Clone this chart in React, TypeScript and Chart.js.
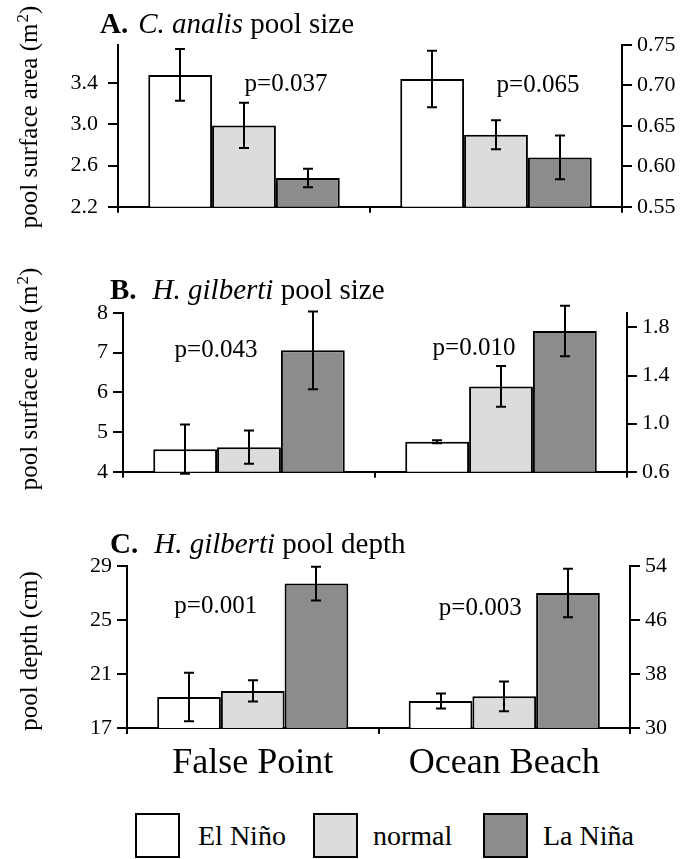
import React, { useEffect, useRef } from "react";
import { Chart, registerables } from "chart.js";

Chart.register(...registerables);

// ---------- data ----------
const sites = ["False Point", "Ocean Beach"];
const seasons = ["El Niño", "normal", "La Niña"];

// Panel A: C. analis pool size (m²) — False Point on left axis, Ocean Beach on right axis
const aFalsePoint = [3.48, 2.99, 2.48];
const aFalsePointErr = [0.25, 0.22, 0.09];
const aOceanBeach = [0.708, 0.639, 0.611];
const aOceanBeachErr = [0.035, 0.018, 0.027];
const aLeftTicks = [2.2, 2.6, 3.0, 3.4];
const aRightTicks = [0.55, 0.6, 0.65, 0.7, 0.75];
const aPValues = ["p=0.037", "p=0.065"];

// Panel B: H. gilberti pool size (m²)
const bFalsePoint = [4.57, 4.62, 7.06];
const bFalsePointErr = [0.62, 0.42, 0.98];
const bOceanBeach = [0.85, 1.31, 1.77];
const bOceanBeachErr = [0.012, 0.17, 0.21];
const bLeftTicks = [4, 5, 6, 7, 8];
const bRightTicks = [0.6, 1.0, 1.4, 1.8];
const bPValues = ["p=0.043", "p=0.010"];

// Panel C: H. gilberti pool depth (cm)
const cFalsePoint = [19.3, 19.75, 27.7];
const cFalsePointErr = [1.8, 0.78, 1.25];
const cOceanBeach = [34.0, 34.7, 50.0];
const cOceanBeachErr = [1.1, 2.2, 3.6];
const cLeftTicks = [17, 21, 25, 29];
const cRightTicks = [30, 38, 46, 54];
const cPValues = ["p=0.001", "p=0.003"];

// ---------- styles ----------
const SERIF = "'Liberation Serif', 'Times New Roman', serif";
const FILLS = ["#ffffff", "#dcdcdc", "#8c8c8c"];
const W = 698;

type PanelCfg = {
  letter: string;
  species: string;
  rest: string;
  yTitle: string;
  ySup: string;
  yTitleEnd: string;
  fp: number[];
  fpErr: number[];
  ob: number[];
  obErr: number[];
  leftTicks: number[];
  rightTicks: number[];
  pValues: string[];
  leftRange: [number, number];
  rightRange: [number, number];
  showX: boolean;
  canvasTop: number;
  canvasHeight: number;
  plotTop: number;
  plotBottom: number;
  axisLeft: number;
  axisRight: number;
  leftPad: number;
  titleX: number;
  titleGap: number;
  titleBase: number;
  yTitleCenter: number;
  pdx: number[];
  pdy: number[];
};

const panels: PanelCfg[] = [
  {
    letter: "A.", species: "C. analis", rest: "pool size",
    yTitle: "pool surface area (m", ySup: "2", yTitleEnd: ")",
    fp: aFalsePoint, fpErr: aFalsePointErr, ob: aOceanBeach, obErr: aOceanBeachErr,
    leftTicks: aLeftTicks, rightTicks: aRightTicks, pValues: aPValues,
    leftRange: [2.2, 3.77], rightRange: [0.55, 0.75], showX: false,
    canvasTop: 0, canvasHeight: 230, plotTop: 45, plotBottom: 211,
    axisLeft: 118, axisRight: 622, leftPad: 10,
    titleX: 100, titleGap: 10, titleBase: 33, yTitleCenter: 117,
    pdx: [42, 42], pdy: [46, 47],
  },
  {
    letter: "B.", species: "H. gilberti", rest: "pool size",
    yTitle: "pool surface area (m", ySup: "2", yTitleEnd: ")",
    fp: bFalsePoint, fpErr: bFalsePointErr, ob: bOceanBeach, obErr: bOceanBeachErr,
    leftTicks: bLeftTicks, rightTicks: bRightTicks, pValues: bPValues,
    leftRange: [4, 8], rightRange: [0.6, 1.92], showX: false,
    canvasTop: 260, canvasHeight: 230, plotTop: 53, plotBottom: 215,
    axisLeft: 123, axisRight: 627, leftPad: 5,
    titleX: 110, titleGap: 16, titleBase: 39, yTitleCenter: 119,
    pdx: [-33, -27], pdy: [44, 42],
  },
  {
    letter: "C.", species: "H. gilberti", rest: "pool depth",
    yTitle: "pool depth (cm)", ySup: "", yTitleEnd: "",
    fp: cFalsePoint, fpErr: cFalsePointErr, ob: cOceanBeach, obErr: cOceanBeachErr,
    leftTicks: cLeftTicks, rightTicks: cRightTicks, pValues: cPValues,
    leftRange: [17, 29], rightRange: [30, 54], showX: true,
    canvasTop: 520, canvasHeight: 280, plotTop: 46, plotBottom: 208,
    axisLeft: 127, axisRight: 630, leftPad: 5,
    titleX: 110, titleGap: 16, titleBase: 33, yTitleCenter: 131,
    pdx: [-37, -24], pdy: [47, 49],
  },
];

function PanelChart({ p }: { p: PanelCfg }) {
  const ref = useRef<HTMLCanvasElement | null>(null);

  useEffect(() => {
    if (!ref.current) return;
    const errs: number[][] = [];
    const datasets: any[] = [];
    seasons.forEach((s, k) => {
      datasets.push({
        label: `${s} (${sites[0]})`,
        data: [p.fp[k], null],
        yAxisID: "y",
        backgroundColor: FILLS[k],
        borderColor: "#000",
        borderWidth: 2,
        skipNull: true,
      });
      errs.push([p.fpErr[k], 0]);
    });
    seasons.forEach((s, k) => {
      datasets.push({
        label: `${s} (${sites[1]})`,
        data: [null, p.ob[k]],
        yAxisID: "y1",
        backgroundColor: FILLS[k],
        borderColor: "#000",
        borderWidth: 2,
        skipNull: true,
      });
      errs.push([0, p.obErr[k]]);
    });

    const errorBars = {
      id: "errorBars",
      afterDatasetsDraw(chart: any) {
        const ctx = chart.ctx;
        ctx.save();
        ctx.strokeStyle = "#000";
        ctx.lineWidth = 2;
        chart.data.datasets.forEach((ds: any, di: number) => {
          const meta = chart.getDatasetMeta(di);
          const ys = chart.scales[ds.yAxisID];
          meta.data.forEach((el: any, i: number) => {
            const v = ds.data[i];
            if (v == null) return;
            const e = errs[di][i];
            const x = Math.round(el.x);
            const yTop = ys.getPixelForValue(v + e);
            const yBot = ys.getPixelForValue(v - e);
            const cap = 5;
            ctx.beginPath();
            ctx.moveTo(x, yTop);
            ctx.lineTo(x, yBot);
            ctx.moveTo(x - cap, yTop);
            ctx.lineTo(x + cap, yTop);
            ctx.moveTo(x - cap, yBot);
            ctx.lineTo(x + cap, yBot);
            ctx.stroke();
          });
        });
        ctx.restore();
      },
    };

    const annotations = {
      id: "annotations",
      afterDraw(chart: any) {
        const ctx = chart.ctx;
        const area = chart.chartArea;
        ctx.save();
        ctx.fillStyle = "#000";
        ctx.textBaseline = "alphabetic";
        ctx.textAlign = "left";
        // panel title
        let x = p.titleX;
        ctx.font = `bold 29px ${SERIF}`;
        ctx.fillText(p.letter, x, p.titleBase);
        x += ctx.measureText(p.letter).width + p.titleGap;
        ctx.font = `italic 29px ${SERIF}`;
        ctx.fillText(p.species, x, p.titleBase);
        x += ctx.measureText(p.species).width;
        ctx.font = `29px ${SERIF}`;
        ctx.fillText(" " + p.rest, x, p.titleBase);

        // y-axis title (rotated)
        const main = `25px ${SERIF}`;
        const sup = `17px ${SERIF}`;
        ctx.font = main;
        const w1 = ctx.measureText(p.yTitle).width;
        const w3 = ctx.measureText(p.yTitleEnd).width;
        ctx.font = sup;
        const w2 = p.ySup ? ctx.measureText(p.ySup).width + 1 : 0;
        const total = w1 + w2 + w3;
        ctx.translate(37, p.yTitleCenter);
        ctx.rotate(-Math.PI / 2);
        let tx = -total / 2;
        ctx.font = main;
        ctx.fillText(p.yTitle, tx, 0);
        tx += w1;
        if (p.ySup) {
          ctx.font = sup;
          ctx.fillText(p.ySup, tx + 1, -9);
          tx += w2;
        }
        ctx.font = main;
        ctx.fillText(p.yTitleEnd, tx, 0);
        ctx.setTransform(1, 0, 0, 1, 0, 0);

        // p-values
        const xs = chart.scales.x;
        ctx.font = `25px ${SERIF}`;
        ctx.textAlign = "center";
        p.pValues.forEach((t, i) => {
          ctx.fillText(t, xs.getPixelForValue(i) + p.pdx[i], area.top + p.pdy[i]);
        });
        ctx.restore();
      },
    };

    const yAxis = (ticks: number[], range: [number, number], position: string, width: number, pad: number) => ({
      type: "linear",
      position,
      min: range[0],
      max: range[1],
      afterBuildTicks: (s: any) => {
        s.ticks = ticks.map((v) => ({ value: v }));
      },
      afterFit: (s: any) => {
        s.width = width;
      },
      border: { display: true, color: "#000", width: 2 },
      grid: { drawOnChartArea: false, drawTicks: true, tickLength: 10, color: "#000", lineWidth: 2 },
      ticks: {
        color: "#000",
        padding: pad,
        font: { family: SERIF, size: 22 },
        callback: (v: any) => {
          const n = Number(v);
          if (ticks === aRightTicks) return n.toFixed(2);
          if (ticks === aLeftTicks || ticks === bRightTicks) return n.toFixed(1);
          return String(n);
        },
      },
      title: { display: false },
    });

    const chart = new Chart(ref.current, {
      type: "bar",
      data: { labels: sites, datasets },
      options: {
        animation: false,
        responsive: false,
        maintainAspectRatio: false,
        layout: { padding: { top: p.plotTop, left: 0, right: 0, bottom: 0 } },
        datasets: { bar: { categoryPercentage: 0.76, barPercentage: 1.0 } },
        plugins: { legend: { display: false }, tooltip: { enabled: false }, title: { display: false } },
        scales: {
          x: {
            type: "category",
            offset: true,
            afterFit: (s: any) => {
              s.height = p.canvasHeight - p.plotBottom;
            },
            border: { display: true, color: "#000", width: 2 },
            grid: { offset: true, drawOnChartArea: false, drawTicks: true, tickLength: 6, color: "#000", lineWidth: 2 },
            ticks: {
              display: p.showX,
              color: "#000",
              padding: 8,
              font: { family: SERIF, size: 36 },
            },
          },
          y: yAxis(p.leftTicks, p.leftRange, "left", p.axisLeft, p.leftPad),
          y1: yAxis(p.rightTicks, p.rightRange, "right", W - p.axisRight, 5),
        } as any,
      } as any,
      plugins: [errorBars, annotations],
    });
    return () => chart.destroy();
  }, [p]);

  return (
    <canvas
      ref={ref}
      width={W}
      height={p.canvasHeight}
      style={{ position: "absolute", left: 0, top: p.canvasTop, width: W, height: p.canvasHeight, display: "block" }}
    />
  );
}

const legendItems = [
  { box: 135, text: 198 },
  { box: 313, text: 373 },
  { box: 483, text: 543 },
];

export default function App() {
  return (
    <div style={{ position: "absolute", left: 0, top: 0, width: W, height: 859, background: "#fff", overflow: "hidden" }}>
      {panels.map((p, i) => (
        <PanelChart key={i} p={p} />
      ))}
      {seasons.map((s, k) => (
        <React.Fragment key={s}>
          <div
            style={{
              position: "absolute",
              left: legendItems[k].box,
              top: 813,
              width: 45,
              height: 45,
              boxSizing: "border-box",
              border: "2px solid #000",
              background: FILLS[k],
            }}
          />
          <div
            style={{
              position: "absolute",
              left: legendItems[k].text,
              top: 813,
              height: 45,
              lineHeight: "45px",
              fontFamily: SERIF,
              fontSize: 28,
              color: "#000",
              whiteSpace: "nowrap",
            }}
          >
            {s}
          </div>
        </React.Fragment>
      ))}
    </div>
  );
}
